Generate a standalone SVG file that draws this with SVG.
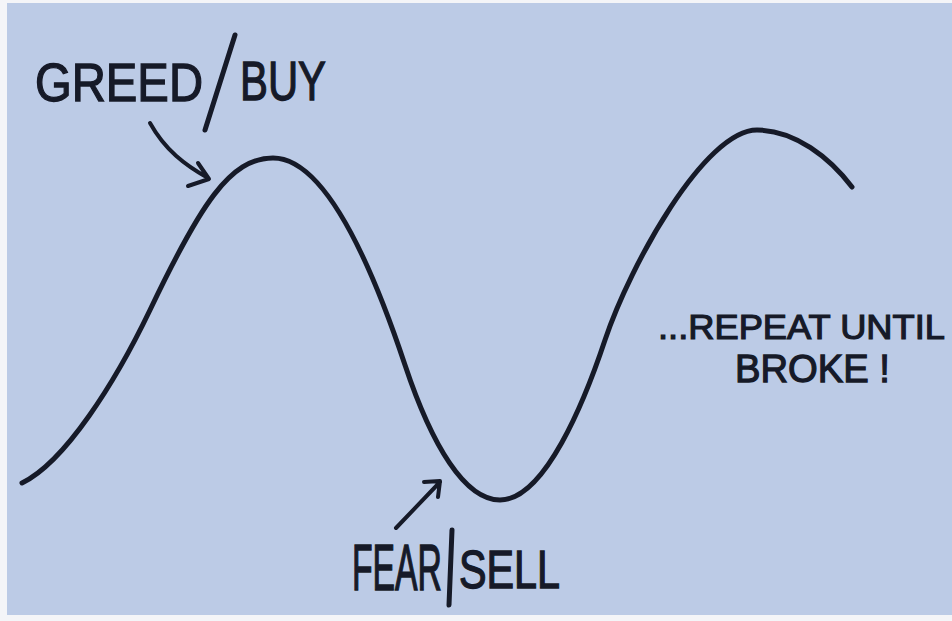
<svg xmlns="http://www.w3.org/2000/svg" width="952" height="621" viewBox="0 0 952 621">
<style>
.ink{fill:none;stroke:#161a28;stroke-linecap:round;stroke-linejoin:round}
.lbl{font-family:"Liberation Sans","DejaVu Sans",sans-serif;fill:#161a28;stroke:#161a28;stroke-width:1.2;vector-effect:non-scaling-stroke}
</style>
<rect x="0" y="0" width="952" height="621" fill="#f4f5f8"/>
<rect x="7" y="3" width="945" height="612" fill="#bccbe6"/>
<g id="curve">
<path class="ink" stroke-width="5" d="M22,483 C65,462 115,383 150,310 C200,205 230,158 273,158 C320,158 365,245 405,365 C432,446 465,500 500,500 C545,500 585,400 605,340 C630,265 705,130 757,130 C795,130 830,158 852,187"/>
</g>
<g id="greed">
<text class="lbl" transform="translate(35,101) scale(1,1.22)" font-size="44" textLength="168" lengthAdjust="spacingAndGlyphs">GREED</text>
<path class="ink" stroke-width="5" d="M235,35 L205,130"/>
<text class="lbl" transform="translate(240,100) scale(1,1.25)" font-size="44" textLength="86" lengthAdjust="spacingAndGlyphs">BUY</text>
</g>
<g id="fear">
<text class="lbl" transform="translate(352,590) scale(1,1.9)" font-size="34" textLength="90" lengthAdjust="spacingAndGlyphs">FEAR</text>
<path class="ink" stroke-width="5" d="M452,530 L449,605"/>
<text class="lbl" transform="translate(459,588) scale(1,1.33)" font-size="40" textLength="101" lengthAdjust="spacingAndGlyphs">SELL</text>
</g>
<g id="repeat">
<text class="lbl" transform="translate(658,339) scale(1,1.05)" font-size="34" textLength="287" lengthAdjust="spacingAndGlyphs">...REPEAT UNTIL</text>
<text class="lbl" transform="translate(735,382) scale(1,1.1)" font-size="36" textLength="155" lengthAdjust="spacingAndGlyphs">BROKE !</text>
</g>
<g id="connectors">
<path class="ink" stroke-width="4" d="M150,123 C165,150 185,165 208,178 M188,186 L209,179 L198,163"/>
<path class="ink" stroke-width="4" d="M396,528 L440,482 M424,482 L440,481 L438,497"/>
</g>
</svg>
